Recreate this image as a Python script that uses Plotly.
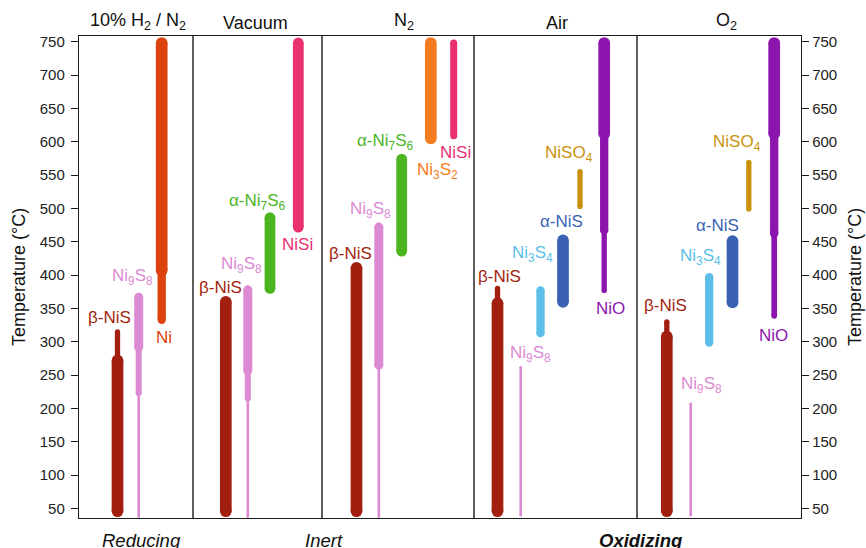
import plotly.graph_objects as go

# ---------------- data ----------------
panel_titles = ["10% H<sub>2</sub> / N<sub>2</sub>", "Vacuum", "N<sub>2</sub>", "Air", "O<sub>2</sub>"]
atmosphere_labels = ["<i>Reducing</i>", "<i>Inert</i>", "<b><i>Oxidizing</i></b>"]
y_ticks = [50, 100, 150, 200, 250, 300, 350, 400, 450, 500, 550, 600, 650, 700, 750]
axis_title = "Temperature (°C)"

# one entry per bar (phase in an atmosphere)
bar_panel = [0, 0, 0,
             1, 1, 1, 1,
             2, 2, 2, 2, 2,
             3, 3, 3, 3, 3, 3,
             4, 4, 4, 4, 4, 4]
bar_phase = ["bNiS", "Ni9S8", "Ni",
             "bNiS", "Ni9S8", "aNi7S6", "NiSi",
             "bNiS", "Ni9S8", "aNi7S6", "Ni3S2", "NiSi",
             "bNiS", "Ni9S8", "Ni3S4", "aNiS", "NiSO4", "NiO",
             "bNiS", "Ni9S8", "Ni3S4", "aNiS", "NiSO4", "NiO"]
# temperature breakpoints (°C), bottom -> top
bar_temps = [[46, 272, 315], [38, 223, 292, 367], [333, 407, 748],
             [46, 360], [38, 215, 257, 378], [380, 486], [472, 748],
             [46, 411], [38, 265, 472], [436, 574], [605, 748], [609, 748],
             [46, 358, 380], [40, 262], [313, 377], [360, 452], [503, 555], [377, 467, 612, 748],
             [46, 308, 330], [40, 207], [299, 397], [359, 451], [499, 569], [339, 462, 612, 748]]
# relative intensity class of each segment
bar_weight = [["XL", "S"], ["H", "M", "L"], ["L2", "XL"],
              ["XL"], ["H", "M", "L"], ["XL2"], ["XL2"],
              ["XL"], ["H", "L"], ["XL2"], ["XL"], ["N"],
              ["XL", "S"], ["H"], ["L2"], ["XL"], ["S"], ["S", "L2", "XL"],
              ["XL", "S"], ["H"], ["L2"], ["XL"], ["S"], ["S2", "L2", "XL"]]
# label temperature (°C) per bar
label_temp = [337, 397, 307,
              382, 415, 510, 446,
              432, 498, 600, 556, 584,
              398, 282, 432, 481, 581, 350,
              355, 235, 427, 475, 598, 310]

phase_text = {"bNiS": "β-NiS", "Ni9S8": "Ni<sub>9</sub>S<sub>8</sub>", "Ni": "Ni",
              "aNi7S6": "α-Ni<sub>7</sub>S<sub>6</sub>", "NiSi": "NiSi",
              "Ni3S2": "Ni<sub>3</sub>S<sub>2</sub>", "Ni3S4": "Ni<sub>3</sub>S<sub>4</sub>",
              "aNiS": "α-NiS", "NiSO4": "NiSO<sub>4</sub>", "NiO": "NiO"}

# ---------------- styles / layout ----------------
phase_color = {"bNiS": "#a21f10", "Ni9S8": "#dc8ad3", "Ni": "#dc420e",
               "aNi7S6": "#4db51f", "NiSi": "#e93172", "Ni3S2": "#f47b20",
               "Ni3S4": "#5bbfe8", "aNiS": "#3a62b3", "NiSO4": "#c9920d", "NiO": "#8b15ad"}
weight_px = {"XL": 11.7, "XL2": 10.8, "L": 9.0, "L2": 8.3, "N": 7.0, "M": 6.0,
             "S": 5.3, "S2": 5.7, "H": 2.6}
# horizontal slots (px from left of plot area)
bar_x = [38.5, 59.7, 82.7,
         146.8, 168.8, 191.0, 219.3,
         277.5, 299.8, 322.7, 351.8, 374.7,
         418.5, 441.7, 461.5, 484.0, 501.0, 525.2,
         587.8, 611.7, 630.2, 653.5, 669.8, 695.2]
label_x = [30.5, 53, 85,
           141, 162, 178, 218.5,
           271, 291.5, 306, 358.5, 376.3,
           420.3, 451.7, 453, 482.5, 490, 531,
           586.3, 622.2, 621.3, 638.5, 657.5, 694]
dividers = [114, 243, 395, 558]
panel_title_x = [59, 176.5, 325, 478, 647]
atm_x = [62, 245, 561]
PLOT_W = 722
FONT = "Liberation Sans, Arial, Helvetica, sans-serif"
Y_RANGE = [35.9, 758.5]

fig = go.Figure()

for i in range(len(bar_phase)):
    col = phase_color[bar_phase[i]]
    temps = bar_temps[i]
    for j, w in enumerate(bar_weight[i]):
        wpx = weight_px[w]
        fig.add_trace(go.Scatter(
            x=[bar_x[i], bar_x[i]], y=[temps[j], temps[j + 1]],
            mode="lines+markers",
            line=dict(color=col, width=wpx),
            marker=dict(color=col, size=wpx, line=dict(width=0)),
            showlegend=False, hoverinfo="skip"))
    fig.add_annotation(x=label_x[i], y=label_temp[i], xref="x", yref="y",
                       text=phase_text[bar_phase[i]], showarrow=False,
                       font=dict(family=FONT, size=17, color=col),
                       xanchor="center", yanchor="middle")

# invisible trace for right axis
fig.add_trace(go.Scatter(x=[0], y=[400], yaxis="y2", mode="markers",
                         marker=dict(opacity=0), showlegend=False, hoverinfo="skip"))

for d in dividers:
    fig.add_shape(type="line", x0=d, x1=d, y0=0, y1=1, xref="x", yref="paper",
                  line=dict(color="#1a1a1a", width=1.4))

for t, xx in zip(panel_titles, panel_title_x):
    fig.add_annotation(x=xx, y=1.0, xref="x", yref="paper", yanchor="bottom",
                       yshift=1, text=t, showarrow=False,
                       font=dict(family=FONT, size=18, color="#111"))

for t, xx in zip(atmosphere_labels, atm_x):
    fig.add_annotation(x=xx, y=-0.046, xref="x", yref="paper", yanchor="middle",
                       text=t, showarrow=False,
                       font=dict(family=FONT, size=18.5, color="#111"))

fig.add_annotation(x=-60 / PLOT_W, y=0.5, xref="paper", yref="paper", text=axis_title,
                   textangle=-90, showarrow=False, xanchor="center", yanchor="middle",
                   font=dict(family=FONT, size=18, color="#111"))
fig.add_annotation(x=1 + 54 / PLOT_W, y=0.5, xref="paper", yref="paper", text=axis_title,
                   textangle=-90, showarrow=False, xanchor="center", yanchor="middle",
                   font=dict(family=FONT, size=18, color="#111"))

axis_common = dict(range=Y_RANGE, tickvals=y_ticks, ticks="outside", ticklen=7,
                   tickwidth=1.2, tickcolor="#1a1a1a", showline=True, linecolor="#1a1a1a",
                   linewidth=1.4, showgrid=False, zeroline=False,
                   tickfont=dict(family=FONT, size=15, color="#222"))

fig.update_layout(
    width=866, height=548,
    margin=dict(l=79, r=65, t=36, b=30),
    paper_bgcolor="white", plot_bgcolor="white",
    xaxis=dict(range=[0, PLOT_W], showticklabels=False, ticks="", showgrid=False,
               zeroline=False, showline=True, linecolor="#1a1a1a", linewidth=1.4,
               mirror=True),
    yaxis=dict(**axis_common, side="left", ticklabelstandoff=3),
    yaxis2=dict(**axis_common, side="right", overlaying="y"),
)

fig.write_html("out.html")
